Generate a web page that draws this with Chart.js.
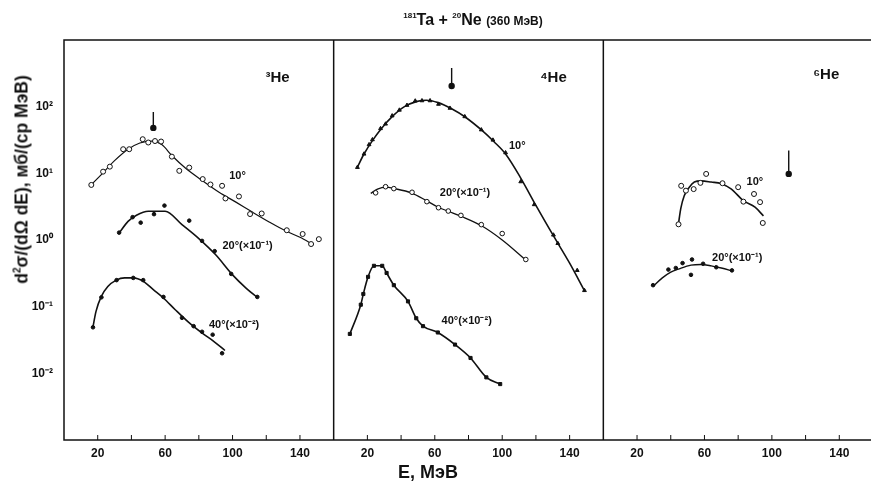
<!DOCTYPE html>
<html>
<head>
<meta charset="utf-8">
<script src="https://cdn.jsdelivr.net/npm/chart.js@4/dist/chart.umd.min.js"></script>
<style>
  html, body { margin: 0; padding: 0; background: #fff; overflow: hidden; }
  #wrap { position: relative; width: 871px; height: 485px; overflow: hidden; }
  #chart { position: absolute; left: 0; top: 0; }
  .txt { position: absolute; font-family: "Liberation Sans", Arial, sans-serif; font-weight: bold; color: #111; white-space: nowrap; }
  #title { left: 473px; top: 11px; transform: translateX(-50%); font-size: 16px; }
  #title sup { font-size: 8px; vertical-align: 7px; }
  #title small { font-size: 12px; }
  #xtitle { left: 428px; top: 462px; transform: translateX(-50%); font-size: 18px; }
  #ytitle { left: -148px; top: 169px; width: 340px; text-align: center; font-size: 17.5px; transform: rotate(-90deg); }
  #ytitle sup { font-size: 10px; }
</style>
</head>
<body>
<div id="wrap">
  <canvas id="chart" width="880" height="485"></canvas>
  <div class="txt" id="title"><sup>181</sup>Ta + <sup>20</sup>Ne <small>(360 МэВ)</small></div>
  <div class="txt" id="xtitle">E, МэВ</div>
  <div class="txt" id="ytitle">d<sup>2</sup>σ/(dΩ dE), мб/(ср МэВ)</div>
</div>
<script>
// each panel spans 0..160 MeV, panels are laid next to each other
const panelSpan = 160;
const xTickStep = [20, 40, 60, 80, 100, 120, 140];
const xTickLabels = [20, 60, 100, 140];
const yTickVals = [1e-2, 1e-1, 1e0, 1e1, 1e2];
const yTickLabels = ['10⁻²', '10⁻¹', '10⁰', '10¹', '10²'];

// 3He, panel 0
const he3_10_E = [16.2, 23.2, 27.2, 35.1, 38.7, 46.7, 50, 54, 57.6, 64, 68.4, 74.3, 82.3, 86.9, 93.8, 95.8, 103.8, 110.4, 117.3, 132.2, 141.6, 146.6, 151.2];
const he3_10_V = [6.7, 10.6, 12.6, 23, 23, 32.5, 29, 30.5, 30, 17.8, 10.9, 12.2, 8.2, 6.8, 6.5, 4.2, 4.5, 2.45, 2.5, 1.4, 1.23, 0.87, 1.03];
const he3_10_fitE = [16, 22, 30, 38, 45, 52, 58, 64, 72, 82, 92, 102, 112, 122, 132, 140, 148];
const he3_10_fitV = [6.7, 9.5, 15.5, 23, 28.5, 30.5, 27, 18.5, 12, 7.8, 5.2, 3.7, 2.6, 1.85, 1.35, 1.1, 0.85];

const he3_20_E = [32.7, 40.7, 45.5, 53.4, 59.6, 74.3, 81.9, 89.4, 99.2, 114.7];
const he3_20_V = [1.29, 2.2, 1.82, 2.44, 3.28, 1.95, 0.97, 0.68, 0.31, 0.14];
const he3_20_fitE = [33, 38, 43, 50, 60, 70, 80, 90, 100, 108, 115];
const he3_20_fitV = [1.3, 1.9, 2.35, 2.7, 2.7, 1.7, 1.05, 0.6, 0.3, 0.19, 0.135];

const he3_40_E = [17.2, 22.2, 31.2, 41.1, 47, 59, 70, 76.9, 81.9, 88.2, 93.8];
const he3_40_V = [0.049, 0.138, 0.25, 0.27, 0.25, 0.14, 0.068, 0.051, 0.042, 0.038, 0.020];
const he3_40_fitE = [17, 19, 22, 26, 31, 36, 41, 47, 53, 59, 66, 74, 82, 89, 95.5];
const he3_40_fitV = [0.047, 0.085, 0.14, 0.2, 0.25, 0.27, 0.27, 0.24, 0.18, 0.135, 0.09, 0.058, 0.04, 0.03, 0.022];

// 4He, panel 1
const he4_10_E = [14.1, 18, 21, 23, 27.8, 30.8, 34.7, 39, 43.5, 48.4, 52.4, 57.2, 62.2, 69, 77.8, 87.6, 94.5, 102, 111, 119, 130.4, 133, 144.5, 148.8];
const he4_10_V = [12.3, 19.5, 27, 32, 47, 55, 73, 89, 105, 122, 123, 123, 109, 95, 71, 45, 31.6, 20.4, 7.5, 3.4, 1.19, 0.89, 0.35, 0.175];
const he4_10_fitE = [14, 18, 23, 28, 35, 42, 49, 55, 62, 70, 78, 88, 95, 102, 111, 120, 130, 140, 149];
const he4_10_fitV = [12.3, 19.5, 31, 46, 72, 100, 119, 125, 115, 93, 70, 44, 30, 19.5, 8.5, 3.3, 1.2, 0.45, 0.17];

const he4_20_E = [24.9, 30.8, 35.7, 46.5, 55.3, 62.2, 68, 75.5, 87.6, 100, 114];
const he4_20_V = [5.1, 6.3, 5.9, 5.2, 3.76, 3.05, 2.72, 2.34, 1.7, 1.25, 0.51];
const he4_20_fitE = [22, 26, 31, 36, 46, 55, 62, 68, 76, 88, 100, 114];
const he4_20_fitV = [5.0, 5.8, 6.2, 5.9, 5.1, 3.9, 3.1, 2.7, 2.25, 1.62, 1.0, 0.5];

const he4_40_E = [9.6, 16.1, 17.6, 20.4, 23.9, 28.8, 31.4, 35.7, 44.1, 49, 53, 61.8, 72, 81.2, 90.6, 98.8];
const he4_40_V = [0.039, 0.107, 0.155, 0.28, 0.41, 0.41, 0.32, 0.21, 0.12, 0.067, 0.051, 0.041, 0.027, 0.017, 0.0087, 0.0069];

// 6He, panel 2
const he6_10_E = [44.6, 46.2, 49, 53.6, 57.6, 61, 70.7, 80, 83.1, 89.4, 93, 94.6];
const he6_10_V = [1.72, 6.5, 5.5, 5.8, 7.2, 9.8, 7.1, 6.2, 3.76, 4.9, 3.7, 1.8];
const he6_10_fitE = [44.5, 46, 48, 51, 54, 58, 64, 70, 76, 83, 90, 95];
const he6_10_fitV = [1.7, 3.0, 4.6, 6.2, 7.4, 7.7, 7.4, 7.0, 5.8, 3.9, 3.1, 2.3];

const he6_20_E = [29.5, 38.6, 43, 47, 52.6, 52, 59.2, 67, 76.3];
const he6_20_V = [0.21, 0.36, 0.38, 0.45, 0.51, 0.30, 0.44, 0.39, 0.35];
const he6_20_fitE = [29.5, 35, 40, 45, 52, 58, 64, 70, 77];
const he6_20_fitV = [0.2, 0.27, 0.33, 0.37, 0.42, 0.43, 0.41, 0.38, 0.34];

// arrows (vertical bar with a dot at the bottom)
const arrowPanel = [0, 1, 2];
const arrowE = [53, 70, 110];
const arrowTop = [83, 380, 22];
const arrowTip = [48, 204, 9.8];

// text annotations
const notes = [
    { panel: 0, e: 119.5, v: 270, text: '³He', size: 15 },
    { panel: 1, e: 122.5, v: 270, text: '⁴He', size: 15 },
    { panel: 2, e: 124.5, v: 300, text: '⁶He', size: 15 },
    { panel: 0, e: 98, v: 9.1, text: '10°', size: 11 },
    { panel: 0, e: 94, v: 0.8, text: '20°(×10⁻¹)', size: 11 },
    { panel: 0, e: 86, v: 0.054, text: '40°(×10⁻²)', size: 11 },
    { panel: 1, e: 104, v: 25.5, text: '10°', size: 11 },
    { panel: 1, e: 63, v: 5.1, text: '20°(×10⁻¹)', size: 11 },
    { panel: 1, e: 64, v: 0.062, text: '40°(×10⁻²)', size: 11 },
    { panel: 2, e: 85, v: 7.4, text: '10°', size: 11 },
    { panel: 2, e: 64.5, v: 0.54, text: '20°(×10⁻¹)', size: 11 }
];

function pts(E, V, panel) {
    return E.map((e, i) => ({ x: e + panel * panelSpan, y: V[i] }));
}

const ink = '#111';

function fitLine(E, V, panel, width) {
    return {
        data: pts(E, V, panel),
        showLine: true,
        borderColor: ink,
        borderWidth: width,
        pointRadius: 0,
        cubicInterpolationMode: 'monotone',
        order: 2
    };
}

function marks(E, V, panel, style, open, r) {
    return {
        data: pts(E, V, panel),
        showLine: false,
        pointStyle: style,
        pointRadius: r,
        pointBorderWidth: 1,
        pointBorderColor: ink,
        pointBackgroundColor: open ? '#fff' : ink,
        order: 1
    };
}

const datasets = [
    fitLine(he3_10_fitE, he3_10_fitV, 0, 1.2),
    fitLine(he3_20_fitE, he3_20_fitV, 0, 1.6),
    fitLine(he3_40_fitE, he3_40_fitV, 0, 1.6),
    fitLine(he4_10_fitE, he4_10_fitV, 1, 1.6),
    fitLine(he4_20_fitE, he4_20_fitV, 1, 1.3),
    fitLine(he4_40_E, he4_40_V, 1, 1.6),
    fitLine(he6_10_fitE, he6_10_fitV, 2, 1.6),
    fitLine(he6_20_fitE, he6_20_fitV, 2, 1.4),
    marks(he3_10_E, he3_10_V, 0, 'circle', true, 2.5),
    marks(he3_20_E, he3_20_V, 0, 'circle', false, 1.8),
    marks(he3_40_E, he3_40_V, 0, 'circle', false, 1.8),
    marks(he4_10_E, he4_10_V, 1, 'triangle', false, 2.2),
    marks(he4_20_E, he4_20_V, 1, 'circle', true, 2.3),
    marks(he4_40_E, he4_40_V, 1, 'rect', false, 2.2),
    marks(he6_10_E, he6_10_V, 2, 'circle', true, 2.5),
    marks(he6_20_E, he6_20_V, 2, 'circle', false, 1.8)
];

arrowE.forEach((e, i) => {
    datasets.push({
        data: [
            { x: e + arrowPanel[i] * panelSpan, y: arrowTop[i] },
            { x: e + arrowPanel[i] * panelSpan, y: arrowTip[i] }
        ],
        showLine: true,
        borderColor: ink,
        borderWidth: 1.4,
        pointRadius: [0, 2.5],
        pointBackgroundColor: ink,
        pointBorderColor: ink,
        order: 1
    });
});

// frame, panel dividers, inner ticks and the text notes
const framePlugin = {
    id: 'frame',
    afterDatasetsDraw(chart) {
        const { ctx, chartArea: a, scales: { x, y } } = chart;
        ctx.save();
        ctx.strokeStyle = ink;
        ctx.lineWidth = 1.5;
        ctx.strokeRect(a.left, a.top, a.right - a.left, a.bottom - a.top);
        ctx.beginPath();
        [1, 2].forEach(p => {
            const px = x.getPixelForValue(p * panelSpan);
            ctx.moveTo(px, a.top);
            ctx.lineTo(px, a.bottom);
        });
        ctx.stroke();
        ctx.lineWidth = 1;
        ctx.beginPath();
        [0, 1, 2].forEach(p => {
            xTickStep.forEach(e => {
                const px = x.getPixelForValue(p * panelSpan + e);
                ctx.moveTo(px, a.bottom);
                ctx.lineTo(px, a.bottom - 5);
            });
        });
        ctx.stroke();

        ctx.fillStyle = ink;
        ctx.textBaseline = 'middle';
        notes.forEach(n => {
            ctx.font = 'bold ' + n.size + 'px "Liberation Sans", Arial, sans-serif';
            ctx.fillText(n.text, x.getPixelForValue(n.panel * panelSpan + n.e), y.getPixelForValue(n.v));
        });
        ctx.restore();
    }
};

new Chart(document.getElementById('chart'), {
    type: 'scatter',
    data: { datasets: datasets },
    plugins: [framePlugin],
    options: {
        responsive: false,
        animation: false,
        devicePixelRatio: 1,
        layout: { padding: { top: 40, right: 7, left: 0, bottom: 0 } },
        plugins: {
            legend: { display: false },
            tooltip: { enabled: false }
        },
        scales: {
            x: {
                type: 'linear',
                min: 0,
                max: 3 * panelSpan,
                grid: { display: false },
                border: { display: false },
                afterFit(scale) { scale.height = 45; },
                afterBuildTicks(scale) {
                    const t = [];
                    [0, 1, 2].forEach(p => xTickStep.forEach(e => t.push({ value: p * panelSpan + e })));
                    scale.ticks = t;
                },
                ticks: {
                    autoSkip: false,
                    maxRotation: 0,
                    padding: -2,
                    color: ink,
                    font: { family: '"Liberation Sans", Arial, sans-serif', size: 12, weight: 'bold' },
                    callback: (value) => xTickLabels.includes(value % panelSpan) ? String(value % panelSpan) : ''
                }
            },
            y: {
                type: 'logarithmic',
                min: 1e-3,
                max: 1e3,
                grid: { display: false },
                border: { display: false },
                afterFit(scale) { scale.width = 64; },
                afterBuildTicks(scale) {
                    scale.ticks = yTickVals.map(v => ({ value: v }));
                },
                ticks: {
                    padding: 3,
                    color: ink,
                    font: { family: '"Liberation Sans", Arial, sans-serif', size: 12, weight: 'bold' },
                    callback: (value, index) => yTickLabels[index]
                }
            }
        }
    }
});
</script>
</body>
</html>
